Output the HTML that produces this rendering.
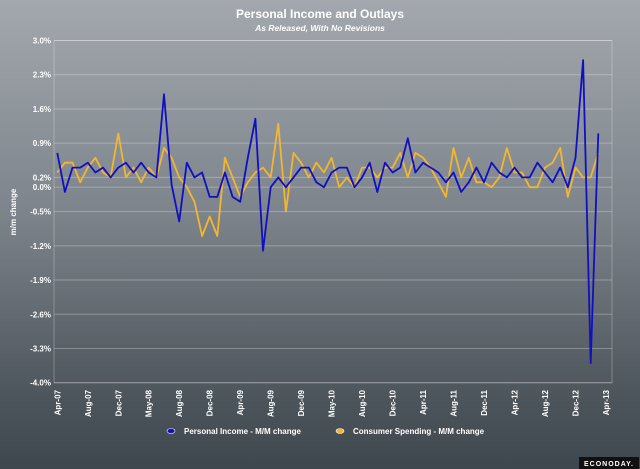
<!DOCTYPE html>
<html><head><meta charset="utf-8"><style>
body{margin:0;width:640px;height:469px;overflow:hidden;font-family:"Liberation Sans",sans-serif;}
#wrap{position:relative;width:640px;height:469px;background:linear-gradient(#a3a8ae 0%,#7d848b 45%,#4d555c 85%,#3f474e 100%);}
</style></head><body>
<div id="wrap">
<svg id="chart" width="640" height="469" style="position:absolute;left:0;top:0"></svg>
</div>
<script>
const categories=["Apr-07","Aug-07","Dec-07","May-08","Aug-08","Dec-08","Apr-09","Aug-09","Dec-09","May-10","Aug-10","Dec-10","Apr-11","Aug-11","Dec-11","Apr-12","Aug-12","Dec-12","Apr-13"];
const yTicks=[3.0,2.3,1.6,0.9,0.2,0.0,-0.5,-1.2,-1.9,-2.6,-3.3,-4.0];
const incomeValues=[0.7,-0.1,0.4,0.4,0.5,0.3,0.4,0.2,0.4,0.5,0.3,0.5,0.3,0.2,1.9,0.05,-0.7,0.5,0.2,0.3,-0.2,-0.2,0.3,-0.2,-0.3,0.6,1.4,-1.3,0.0,0.2,0.0,0.2,0.4,0.4,0.1,0.0,0.3,0.4,0.4,0.0,0.2,0.5,-0.1,0.5,0.3,0.4,1.0,0.3,0.5,0.4,0.3,0.1,0.3,-0.1,0.1,0.4,0.1,0.5,0.3,0.2,0.4,0.2,0.2,0.5,0.3,0.1,0.4,0.0,0.6,2.6,-3.6,1.1];
const spendingValues=[0.3,0.5,0.5,0.1,0.4,0.6,0.3,0.2,1.1,0.2,0.4,0.1,0.4,0.2,0.8,0.6,0.2,0.0,-0.3,-1.0,-0.6,-1.0,0.6,0.2,-0.2,0.1,0.3,0.4,0.2,1.3,-0.5,0.7,0.5,0.2,0.5,0.3,0.6,0.0,0.2,0.0,0.4,0.4,0.2,0.4,0.4,0.7,0.2,0.7,0.6,0.4,0.1,-0.2,0.8,0.2,0.6,0.1,0.1,0.0,0.2,0.8,0.3,0.3,0.0,0.0,0.4,0.5,0.8,-0.2,0.4,0.2,0.2,0.7];

const svg=document.getElementById('chart');
const NS='http://www.w3.org/2000/svg';
const L=54,R=612,T=40.5,B=382.7,X0=57.3,STEP=7.62,YMAX=3,YMIN=-4;
function x(i){return X0+i*STEP;}
function y(v){return T+(YMAX-v)/(YMAX-YMIN)*(B-T);}
function mk(tag,attrs){const e=document.createElementNS(NS,tag);for(const k in attrs)e.setAttribute(k,attrs[k]);svg.appendChild(e);return e;}

let t=mk('text',{x:320,y:18,'text-anchor':'middle',fill:'#fff','font-size':'12','font-weight':'bold'});t.textContent='Personal Income and Outlays';


t=mk('text',{x:320,y:31,'text-anchor':'middle',fill:'#fff','font-size':'8.5','font-weight':'bold','font-style':'italic'});t.textContent='As Released, With No Revisions';



let f=mk('rect',{x:L,y:T,width:R-L,height:B-T,fill:'none',stroke:'rgba(255,255,255,0.25)','stroke-width':1});



yTicks.forEach(v=>{
  const g=mk('line',{x1:L,x2:R,y1:y(v),y2:y(v),stroke:'rgba(255,255,255,0.28)','stroke-width':1});
  
  
  const lb=mk('text',{x:L-3,y:y(v)+3,'text-anchor':'end',fill:'#fff','font-size':'8','font-weight':'bold'});
  lb.textContent=v.toFixed(1)+'%';
  
  
});
t=mk('text',{x:0,y:0,transform:'translate(16,212) rotate(-90)','text-anchor':'middle',fill:'#fff','font-size':'8','font-weight':'bold'});t.textContent='m/m change';



categories.forEach((c,k)=>{
  const xx=x(k*4);
  const lb=mk('text',{x:0,y:0,transform:'translate('+(xx+3)+',390) rotate(-90)','text-anchor':'end',fill:'#fff','font-size':'8','font-weight':'bold'});
  lb.textContent=c;
  
  
});

function series(vals,color,name){
  const p=mk('polyline',{points:vals.map((v,i)=>x(i).toFixed(1)+','+y(v).toFixed(1)).join(' '),fill:'none',stroke:color,'stroke-width':1.8,'stroke-linejoin':'round'});
  
  
}
series(spendingValues,'#f2b630','consumer-spending-line');
series(incomeValues,'#1010c0','personal-income-line');

function legend(cx,color,label,name){
  const m=mk('ellipse',{cx:cx,cy:431,rx:4,ry:2.5,fill:color,stroke:'#fff','stroke-width':0.6});
  
  
  const tx=mk('text',{x:cx+13,y:434,fill:'#fff','font-size':'8','font-weight':'bold'});
  tx.textContent=label;
  
  
}
legend(171,'#1010c0','Personal Income - M/M change','legend-personal-income');
legend(340,'#f2b630','Consumer Spending - M/M change','legend-consumer-spending');

let wm=mk('rect',{x:579,y:457,width:60,height:12,fill:'#111'});


t=mk('text',{x:609,y:466,'text-anchor':'middle',fill:'#fff','font-size':'7','font-weight':'bold','letter-spacing':'1'});t.textContent='ECONODAY.';


</script>
</body></html>
